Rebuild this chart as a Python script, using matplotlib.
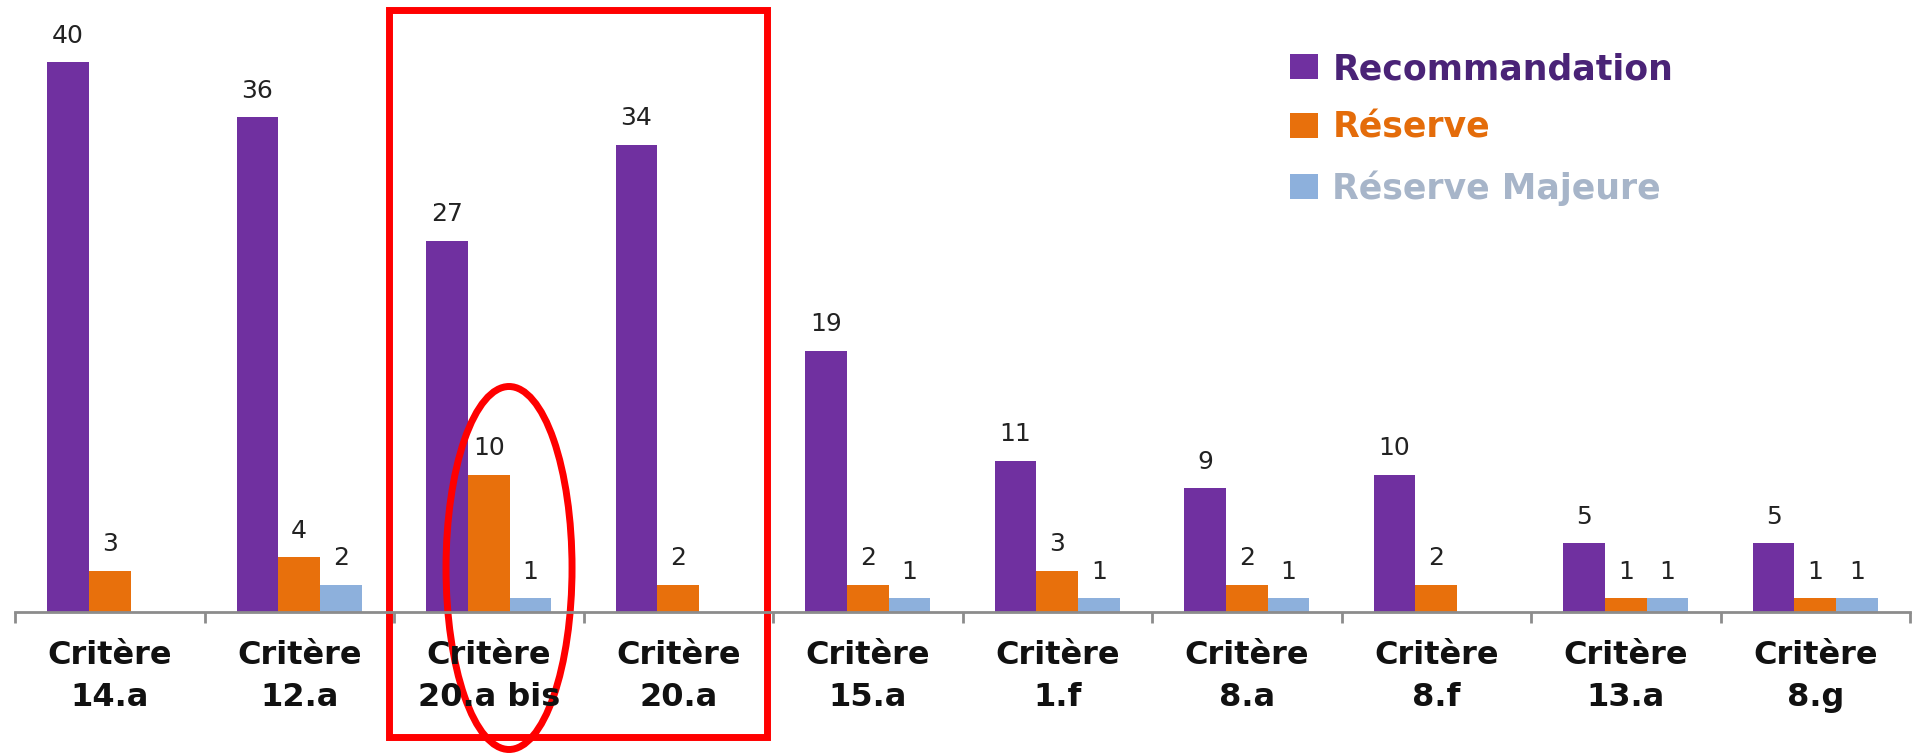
import matplotlib
matplotlib.use("Agg")
import matplotlib.pyplot as plt
import numpy as np
from matplotlib.patches import Rectangle, Ellipse, Patch

# criteria and counts per finding type
criteres = ["Critère\n14.a", "Critère\n12.a", "Critère\n20.a bis", "Critère\n20.a",
            "Critère\n15.a", "Critère\n1.f", "Critère\n8.a", "Critère\n8.f",
            "Critère\n13.a", "Critère\n8.g"]
recommandation = [40, 36, 27, 34, 19, 11, 9, 10, 5, 5]
reserve = [3, 4, 10, 2, 2, 3, 2, 2, 1, 1]
reserve_majeure = [0, 2, 1, 0, 1, 1, 1, 0, 1, 1]

series = [("Recommandation", recommandation, "#7030A0", "#4A2377"),
          ("Réserve", reserve, "#E8700C", "#E46C0A"),
          ("Réserve Majeure", reserve_majeure, "#8DB0DC", "#A7B5C9")]

plt.rcParams['font.family'] = ['DejaVu Sans']

fig = plt.figure(figsize=(19.16, 7.53), dpi=100)
ax = fig.add_axes([15/1916, 141/753, 1895/1916, 605/753])

x = np.arange(len(criteres))
w = 0.22
for i, (name, vals, col, _) in enumerate(series):
    pos = x + (i - 1) * w
    for xp, v in zip(pos, vals):
        if v == 0:
            continue
        ax.bar(xp, v, width=w, color=col, edgecolor='none')
        ax.annotate(str(v), (xp, v), xytext=(0, 19), textcoords='offset points',
                    ha='center', va='center', fontsize=18, color='#222222')

ax.set_xlim(-0.5, len(criteres) - 0.5)
ax.set_ylim(0, 44)
ax.set_yticks([])
for s in ['top', 'right', 'left']:
    ax.spines[s].set_visible(False)
ax.spines['bottom'].set_color('#8c8c8c')
ax.spines['bottom'].set_linewidth(2)

# category labels centred, tick marks on the boundaries
ax.set_xticks(x)
ax.set_xticklabels(criteres, fontsize=23, fontweight='bold', color='#111111',
                   linespacing=1.45)
ax.tick_params(axis='x', which='major', length=0, pad=20)
ax.set_xticks(np.arange(-0.5, len(criteres)), minor=True)
ax.tick_params(axis='x', which='minor', length=8, width=2, color='#8c8c8c',
               direction='out')

# legend
handles = [Patch(facecolor=c, edgecolor='none', label=n) for n, _, c, _ in series]
leg = fig.legend(handles=handles, loc='upper left', bbox_to_anchor=(1290/1916, 1 - 52/753),
                 frameon=False, prop={'size': 25, 'weight': 'bold'},
                 handlelength=0.82, handleheight=0.72, handletextpad=0.4,
                 labelspacing=0.72, borderaxespad=0, borderpad=0)
for t, (_, _, _, tc) in zip(leg.get_texts(), series):
    t.set_color(tc)

# red highlight around criteria 20.a bis / 20.a
ax.add_patch(Rectangle((1.474, -9.1), 1.994, 52.9, fill=False, edgecolor='#FF0000',
                       linewidth=5, clip_on=False))
ax.add_patch(Ellipse((2.107, 3.2), 0.665, 26.4, fill=False, edgecolor='#FF0000',
                     linewidth=5, clip_on=False))

fig.savefig("out.png", dpi=100, facecolor='white')
